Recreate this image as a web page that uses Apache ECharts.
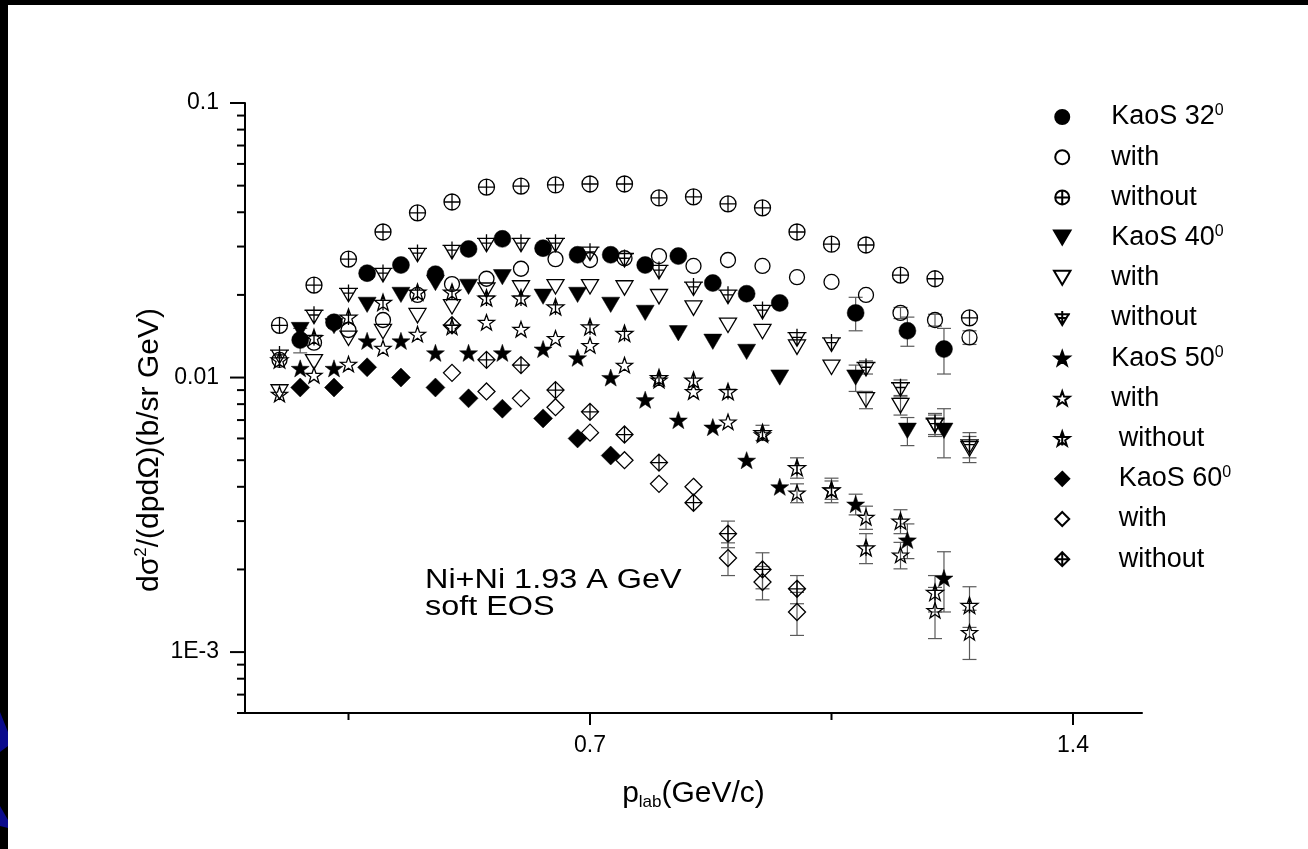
<!DOCTYPE html>
<html>
<head>
<meta charset="utf-8">
<script src="https://cdn.jsdelivr.net/npm/echarts@6/dist/echarts.min.js"></script>
<style>
html,body{margin:0;padding:0;background:#000;}
#chart{width:1308px;height:849px;}
</style>
</head>
<body>
<div id="chart"></div>
<script>
// ---------------- data ----------------
const pKaos = [0.280, 0.329, 0.377, 0.426, 0.476, 0.524, 0.573, 0.632, 0.682, 0.730, 0.780, 0.828, 0.878, 0.927, 0.975, 1.085, 1.160, 1.213];
const pModel = [0.25, 0.30, 0.35, 0.40, 0.45, 0.50, 0.55, 0.60, 0.65, 0.70, 0.75, 0.80, 0.85, 0.90, 0.95, 1.00, 1.05, 1.10, 1.15, 1.20, 1.25];
const pModel60 = [0.50, 0.55, 0.60, 0.65, 0.70, 0.75, 0.80, 0.85, 0.90, 0.95, 1.00];

const kaos32 = [0.0137, 0.0159, 0.0240, 0.0257, 0.0238, 0.0294, 0.0320, 0.0296, 0.0280, 0.0280, 0.0257, 0.0277, 0.0221, 0.0202, 0.0187, 0.0172, 0.0148, 0.0127];
const errKaos32 = [0.0014, 0, 0, 0, 0, 0, 0, 0, 0, 0, 0, 0, 0, 0, 0, 0.0024, 0.0018, 0.0024];
const with32 = [0.0116, 0.0134, 0.0149, 0.0162, 0.0200, 0.0219, 0.0229, 0.0249, 0.0270, 0.0268, 0.0272, 0.0277, 0.0255, 0.0268, 0.0255, 0.0232, 0.0223, 0.0200, 0.0172, 0.0162, 0.0140];
const errWith32 = [0, 0, 0, 0, 0, 0, 0, 0, 0, 0, 0, 0, 0, 0, 0, 0, 0, 0, 0.0008, 0.0008, 0.0008];
const without32 = [0.0155, 0.0217, 0.0270, 0.0339, 0.0398, 0.0436, 0.0494, 0.0498, 0.0503, 0.0507, 0.0507, 0.0451, 0.0455, 0.0429, 0.0415, 0.0339, 0.0306, 0.0304, 0.0236, 0.0229, 0.0165];

const kaos40 = [0.0149, 0.0154, 0.0184, 0.0200, 0.0221, 0.0214, 0.0232, 0.0197, 0.0200, 0.0184, 0.0172, 0.0145, 0.0135, 0.0124, 0.0100, 0.0100, 0.0064, 0.0064];
const errKaos40 = [0, 0, 0, 0, 0, 0, 0, 0, 0, 0, 0, 0, 0, 0, 0, 0.0011, 0.00075, 0.0013];
const with40 = [0.00886, 0.0114, 0.0139, 0.0147, 0.0168, 0.0181, 0.0208, 0.0212, 0.0214, 0.0214, 0.0212, 0.0197, 0.0179, 0.0155, 0.0147, 0.0129, 0.0109, 0.0083, 0.0079, 0.0067, 0.0055];
const errWith40 = [0, 0, 0, 0, 0, 0, 0, 0, 0, 0, 0, 0, 0, 0, 0, 0, 0, 0.0006, 0.0006, 0.0006, 0.0006];
const without40 = [0.0121, 0.0169, 0.0203, 0.0240, 0.0284, 0.0291, 0.0309, 0.0309, 0.0309, 0.0287, 0.0272, 0.0246, 0.0214, 0.0200, 0.0176, 0.0140, 0.0134, 0.0109, 0.0092, 0.0068, 0.0057];
const errWithout40 = [0, 0, 0, 0, 0, 0, 0, 0, 0, 0, 0, 0, 0, 0, 0, 0, 0, 0.0006, 0.0006, 0.0006, 0.0006];

const kaos50 = [0.0108, 0.0108, 0.0136, 0.0136, 0.0123, 0.0123, 0.0123, 0.0127, 0.0118, 0.0100, 0.0083, 0.0070, 0.0066, 0.0050, 0.0040, 0.00346, 0.00256, 0.00186];
const errKaos50 = [0, 0, 0, 0, 0, 0, 0, 0, 0, 0, 0, 0, 0, 0, 0, 0.0003, 0.00037, 0.00046];
const with50 = [0.0087, 0.0102, 0.0112, 0.0128, 0.0144, 0.0153, 0.0159, 0.0150, 0.0139, 0.0131, 0.0111, 0.0098, 0.0089, 0.0069, 0.0062, 0.0038, 0.0039, 0.0031, 0.00226, 0.00142, 0.00118];
const errWith50 = [0, 0, 0, 0, 0, 0, 0, 0, 0, 0, 0, 0, 0, 0, 0, 0.0003, 0.0003, 0.0003, 0.00025, 0.0003, 0.00024];
const without50 = [0.0116, 0.0140, 0.0166, 0.0188, 0.0205, 0.0205, 0.0195, 0.0195, 0.0181, 0.0153, 0.0145, 0.0100, 0.0098, 0.0089, 0.0063, 0.0047, 0.0039, 0.0024, 0.0030, 0.00165, 0.00148];
const errWithout50 = [0, 0, 0, 0, 0, 0, 0, 0, 0, 0, 0, 0, 0, 0, 0.0004, 0.0004, 0.0004, 0.0003, 0.0003, 0.00025, 0.00025];

const kaos60 = [0.0092, 0.0092, 0.0109, 0.0100, 0.0092, 0.0084, 0.0077, 0.0071, 0.0060, 0.0052];
const with60 = [0.0104, 0.0089, 0.0084, 0.0078, 0.0063, 0.0050, 0.0041, 0.0040, 0.0022, 0.0018, 0.0014];
const errWith60 = [0, 0, 0, 0, 0, 0, 0, 0, 0.0003, 0.00025, 0.00025];
const without60 = [0.0155, 0.0116, 0.0111, 0.0090, 0.0075, 0.0062, 0.0049, 0.0035, 0.0027, 0.0020, 0.0017];
const errWithout60 = [0, 0, 0, 0, 0, 0, 0, 0, 0.0003, 0.0003, 0.0002];

const yMajorTicks = [0.001, 0.01, 0.1];
const yMinorTicks = [0.0006, 0.0007, 0.0008, 0.0009, 0.002, 0.003, 0.004, 0.005, 0.006, 0.007, 0.008, 0.009, 0.02, 0.03, 0.04, 0.05, 0.06, 0.07, 0.08, 0.09];
const yTickLabels = {'-3': '1E-3', '-2': '0.01', '-1': '0.1'};
const xMajorTicks = [0.7, 1.4];
const xMinorTicks = [0.35, 1.05];
const xTickLabels = ['0.7', '1.4'];

const seriesNames = ['KaoS 32', 'with 32', 'without 32', 'KaoS 40', 'with 40', 'without 40', 'KaoS 50', 'with 50', 'without 50', 'KaoS 60', 'with 60', 'without 60'];
const legendLabels = ['{t|KaoS 32}{s|0}', '{t|with}', '{t|without}', '{t|KaoS 40}{s|0}', '{t|with}', '{t|without}', '{t|KaoS 50}{s|0}', '{t|with}', '{t|\u00a0without}', '{t|\u00a0KaoS 60}{s|0}', '{t|\u00a0with}', '{t|\u00a0without}'];

// ---------------- symbols ----------------
const STAR = 'M0,-10L2.35,-3.24L9.51,-3.09L3.8,1.24L5.88,8.09L0,4L-5.88,8.09L-3.8,1.24L-9.51,-3.09L-2.35,-3.24Z';
const SYM = {
  circle: 'circle',
  circlePlus: 'path://M0,-10A10,10,0,1,1,0,10A10,10,0,1,1,0,-10Z M-10,0L10,0 M0,-10L0,10',
  tri: 'path://M-10,-8L10,-8L0,9Z',
  triPlus: 'path://M-10,-8L10,-8L0,9Z M-12,-8L12,-8 M0,-13L0,9 M-7,-2L7,-2',
  star: 'path://' + STAR,
  starPlus: 'path://' + STAR + ' M0,-10L0,8 M-9.5,-3.1L9.5,-3.1',
  diamond: 'path://M0,-10L10,0L0,10L-10,0Z',
  diamondPlus: 'path://M0,-10L10,0L0,10L-10,0Z M-10,0L10,0 M0,-10L0,10'
};

const FONT = '"Liberation Sans", Arial, sans-serif';

function scatter(name, xs, ys, symbol, size, filled) {
  return {
    name: name,
    type: 'scatter',
    data: ys.map((y, i) => [xs[i], y]),
    symbol: symbol,
    symbolSize: size,
    symbolKeepAspect: true,
    itemStyle: filled
      ? {color: '#000', borderColor: '#000', borderWidth: 0.5, opacity: 1}
      : {color: 'rgba(255,255,255,0)', borderColor: '#000', borderWidth: 1.3, opacity: 1},
    emphasis: {disabled: true},
    z: 4
  };
}

function errPairs(xs, ys, es) {
  const out = [];
  es.forEach((e, i) => { if (e > 0) out.push([xs[i], ys[i], e]); });
  return out;
}
const errorData = [].concat(
  errPairs(pKaos, kaos32, errKaos32),
  errPairs(pModel, with32, errWith32),
  errPairs(pKaos, kaos40, errKaos40),
  errPairs(pModel, with40, errWith40),
  errPairs(pModel, without40, errWithout40),
  errPairs(pKaos, kaos50, errKaos50),
  errPairs(pModel, with50, errWith50),
  errPairs(pModel, without50, errWithout50),
  errPairs(pModel60, with60, errWith60),
  errPairs(pModel60, without60, errWithout60)
);

// tick marks: [x, y, length, direction]  (0 = y-axis tick, 1 = x-axis tick)
const tickData = [].concat(
  yMajorTicks.map(v => [0.2, v, 15, 0]),
  yMinorTicks.map(v => [0.2, v, 8, 0]),
  xMajorTicks.map(v => [v, 0.0006, 12, 1]),
  xMinorTicks.map(v => [v, 0.0006, 7, 1])
);

const chart = echarts.init(document.getElementById('chart'), null, {renderer: 'canvas'});

const option = {
  animation: false,
  backgroundColor: '#ffffff',
  textStyle: {fontFamily: FONT, color: '#000'},
  grid: {left: 245, top: 103, width: 897, height: 610, containLabel: false},
  xAxis: {
    type: 'value', min: 0.2, max: 1.5, interval: 0.05,
    axisLine: {onZero: false, lineStyle: {color: '#000', width: 2}},
    axisTick: {show: false},
    splitLine: {show: false},
    axisLabel: {
      fontSize: 23, color: '#000', margin: 21, fontFamily: FONT,
      formatter: function (v) {
        for (let i = 0; i < xMajorTicks.length; i++) {
          if (Math.abs(v - xMajorTicks[i]) < 1e-6) return xTickLabels[i];
        }
        return '';
      }
    },
    name: '{a|p}{b|lab}{a|(GeV/c)}',
    nameLocation: 'middle',
    nameGap: 64,
    nameTextStyle: {
      fontFamily: FONT, color: '#000',
      rich: {
        a: {fontSize: 30, lineHeight: 34, fontFamily: FONT, color: '#000'},
        b: {fontSize: 17, lineHeight: 17, verticalAlign: 'bottom', fontFamily: FONT, color: '#000'}
      }
    }
  },
  yAxis: {
    type: 'log', logBase: 10, min: 0.0006, max: 0.1,
    axisLine: {show: true, onZero: false, lineStyle: {color: '#000', width: 2}},
    axisTick: {show: false},
    minorTick: {show: false},
    splitLine: {show: false},
    minorSplitLine: {show: false},
    axisLabel: {
      fontSize: 23, color: '#000', margin: 26, fontFamily: FONT,
      formatter: function (v) {
        const l = Math.log10(v);
        const r = Math.round(l);
        if (Math.abs(l - r) < 1e-6 && yTickLabels[String(r)]) return yTickLabels[String(r)];
        return '';
      }
    }
  },
  legend: {
    orient: 'vertical', left: 1053, top: 103,
    itemWidth: 88, itemHeight: 14, itemGap: 12.2, padding: 0,
    symbolKeepAspect: true,
    selectedMode: false,
    data: seriesNames,
    formatter: function (n) { return legendLabels[seriesNames.indexOf(n)]; },
    textStyle: {
      fontFamily: FONT, color: '#000', fontSize: 27, lineHeight: 28,
      rich: {
        t: {fontSize: 27, lineHeight: 28, fontFamily: FONT, color: '#000'},
        s: {fontSize: 16, lineHeight: 16, verticalAlign: 'top', fontFamily: FONT, color: '#000'}
      }
    }
  },
  graphic: [
    {type: 'rect', left: 0, top: 0, shape: {width: 1308, height: 5}, style: {fill: '#000'}, z: 100},
    {type: 'rect', left: 0, top: 0, shape: {width: 8, height: 849}, style: {fill: '#000'}, z: 100},
    {type: 'polygon', shape: {points: [[0, 712], [8, 732], [8, 746], [0, 752]]}, style: {fill: '#0b0b8c'}, z: 101},
    {type: 'polygon', shape: {points: [[0, 806], [8, 820], [8, 828], [0, 826]]}, style: {fill: '#0b0b8c'}, z: 101},
    {
      type: 'text', x: 150, y: 450, rotation: Math.PI / 2, z: 50,
      style: {
        text: '{a|d\u03c3}{s|2}{a|/(dpd\u03a9)(b/sr GeV)}',
        align: 'center', verticalAlign: 'middle', fill: '#000',
        rich: {
          a: {fontSize: 30, lineHeight: 34, fontFamily: FONT, fill: '#000'},
          s: {fontSize: 17, lineHeight: 17, verticalAlign: 'top', fontFamily: FONT, fill: '#000'}
        }
      }
    },
    {type: 'text', x: 425, y: 581, scaleX: 1.2, z: 50,
      style: {text: 'Ni+Ni 1.93 A GeV', fontSize: 27, fontFamily: FONT, fill: '#000', verticalAlign: 'middle'}},
    {type: 'text', x: 425, y: 608, scaleX: 1.2, z: 50,
      style: {text: 'soft EOS', fontSize: 27, fontFamily: FONT, fill: '#000', verticalAlign: 'middle'}}
  ],
  series: [
    {
      name: 'ticks', type: 'custom', clip: false, silent: true, z: 10,
      data: tickData,
      renderItem: function (params, api) {
        const p = api.coord([api.value(0), api.value(1)]);
        const len = api.value(2), dir = api.value(3);
        const shape = dir === 0
          ? {x1: p[0] - len, y1: p[1], x2: p[0], y2: p[1]}
          : {x1: p[0], y1: p[1], x2: p[0], y2: p[1] + len};
        return {type: 'line', shape: shape, style: {stroke: '#000', lineWidth: 2}};
      }
    },
    {
      name: 'errors', type: 'custom', clip: false, silent: true, z: 3,
      data: errorData,
      renderItem: function (params, api) {
        const x = api.value(0), y = api.value(1), e = api.value(2);
        const t = api.coord([x, y + e]);
        const b = api.coord([x, y - e]);
        const c = 7;
        const st = {stroke: '#5a5a5a', lineWidth: 1.2};
        return {type: 'group', children: [
          {type: 'line', shape: {x1: t[0], y1: t[1], x2: b[0], y2: b[1]}, style: st},
          {type: 'line', shape: {x1: t[0] - c, y1: t[1], x2: t[0] + c, y2: t[1]}, style: st},
          {type: 'line', shape: {x1: b[0] - c, y1: b[1], x2: b[0] + c, y2: b[1]}, style: st}
        ]};
      }
    },
    scatter('KaoS 32', pKaos, kaos32, SYM.circle, 17, true),
    scatter('with 32', pModel, with32, SYM.circle, 15, false),
    scatter('without 32', pModel, without32, SYM.circlePlus, 16, false),
    scatter('KaoS 40', pKaos, kaos40, SYM.tri, 18, true),
    scatter('with 40', pModel, with40, SYM.tri, 17, false),
    scatter('without 40', pModel, without40, SYM.triPlus, 19, false),
    scatter('KaoS 50', pKaos, kaos50, SYM.star, 18, true),
    scatter('with 50', pModel, with50, SYM.star, 16, false),
    scatter('without 50', pModel, without50, SYM.starPlus, 17, false),
    scatter('KaoS 60', pKaos, kaos60, SYM.diamond, 19, true),
    scatter('with 60', pModel60, with60, SYM.diamond, 17, false),
    scatter('without 60', pModel60, without60, SYM.diamondPlus, 17, false)
  ]
};

chart.setOption(option);
</script>
</body>
</html>
